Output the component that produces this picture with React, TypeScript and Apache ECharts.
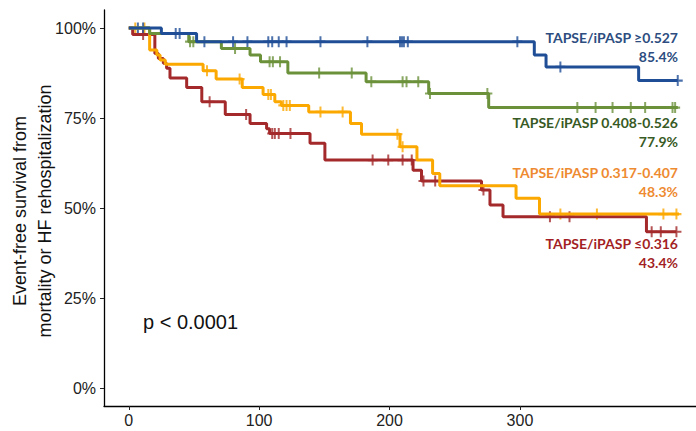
import React, { useEffect, useRef } from "react";
import * as echarts from "echarts";

// ---- data (days, % event-free survival) ----
const xTickValues = [0, 100, 200, 300];
const yTickValues = [0, 25, 50, 75, 100];

const blueTimes = [0, 25, 52, 311, 320, 391, 421];
const blueSurv = [100, 98.5, 96.2, 92.5, 89.2, 85.4, 85.4];
const blueCensor = [7, 11, 36, 39, 58, 80, 91, 107, 110, 115, 121, 147, 183, 208, 209.5, 211, 214, 298, 331, 421];

const greenTimes = [0, 16, 46, 71, 93, 101, 122, 182, 230, 276, 421];
const greenSurv = [100, 98.5, 96.2, 94.3, 92.5, 90.6, 87.5, 85.1, 81.8, 77.9, 77.9];
const greenCensor = [47, 49.5, 81.5, 108, 110.5, 116, 146, 171, 186, 210, 213, 222, 231, 275, 344, 358, 371, 385, 396, 417, 419];

const orangeTimes = [0, 16, 21.5, 24, 28, 57, 67, 87, 103, 112, 117, 138, 170, 178.5, 208, 221, 233, 238.5, 297, 315, 422];
const orangeSurv = [100, 93.9, 92.5, 91.1, 89.9, 88.1, 85.8, 83.5, 81.5, 79.5, 78.5, 76.7, 73.5, 70.5, 67, 63.3, 59.6, 56.2, 52.7, 48.3, 48.3];
const orangeCensor = [5, 12, 60, 85, 107, 109, 118.5, 121, 123.5, 147, 164, 206, 210, 331, 359, 410, 420];

const redTimes = [0, 3, 20, 22.7, 26.5, 29, 31.6, 44.4, 56, 74, 93, 105.7, 108, 139, 150.4, 218, 224.5, 270.5, 277, 287, 397, 420];
const redSurv = [100, 98.2, 92.9, 91.5, 90.2, 88.8, 86.1, 83.5, 79.5, 76, 73.5, 72, 70.7, 68, 63.3, 60.5, 57.5, 55, 50.8, 47.6, 43.4, 43.4];
const redCensor = [11, 62, 90, 110, 112, 115, 124, 187, 199, 210, 217, 226, 235, 272, 323, 338, 401, 408, 420];

const groupNames = ["TAPSE/iPASP ≥0.527", "TAPSE/iPASP 0.408-0.526", "TAPSE/iPASP 0.317-0.407", "TAPSE/iPASP ≤0.316"];
const finalLabels = ["85.4%", "77.9%", "48.3%", "43.4%"];
const pValueText = "p < 0.0001";
const yTitle1 = "Event-free survival from";
const yTitle2 = "mortality or HF rehospitalization";

const survAt = (times: number[], surv: number[], d: number) => {
  let v = surv[0];
  for (let i = 0; i < times.length; i++) if (times[i] <= d) v = surv[i];
  return v;
};

const PLUS = "path://M4,0H6V4H10V6H6V10H4V6H0V4H4Z";

export default function App() {
  const ref = useRef<HTMLDivElement>(null);
  useEffect(() => {
    if (!ref.current) return;
    const chart = echarts.init(ref.current, undefined, { renderer: "svg" });
    const groups = [
      { times: redTimes, surv: redSurv, censor: redCensor, color: "#a3292b" },
      { times: orangeTimes, surv: orangeSurv, censor: orangeCensor, color: "#fba800" },
      { times: greenTimes, surv: greenSurv, censor: greenCensor, color: "#6c913b" },
      { times: blueTimes, surv: blueSurv, censor: blueCensor, color: "#1f4e96" },
    ];
    const series: any[] = [];
    groups.forEach((g) => {
      series.push({
        type: "line",
        step: "end",
        showSymbol: false,
        data: g.times.map((t, i) => [t, g.surv[i]]),
        lineStyle: { color: g.color, width: 3 },
        itemStyle: { color: g.color },
        silent: true,
      });
      series.push({
        type: "scatter",
        symbol: PLUS,
        symbolSize: [10, 11],
        data: g.censor.map((d) => [d, survAt(g.times, g.surv, d)]),
        itemStyle: { color: g.color },
        silent: true,
      });
    });
    const labelColors = ["#2d4d80", "#385a24", "#ee8a30", "#a31f25"];
    const labelY = [37, 122, 172, 243];
    const graphic: any[] = [];
    groupNames.forEach((n, i) => {
      graphic.push({
        type: "text",
        x: 678,
        y: labelY[i],
        style: { text: n, fill: labelColors[i], fontSize: 14, fontWeight: "bold", fontFamily: "Lato", align: "right", verticalAlign: "middle" },
      });
      graphic.push({
        type: "text",
        x: 678,
        y: labelY[i] + 19.5,
        style: { text: finalLabels[i], fill: labelColors[i], fontSize: 14, fontWeight: "bold", fontFamily: "Lato", align: "right", verticalAlign: "middle" },
      });
    });
    graphic.push({
      type: "text",
      x: 143,
      y: 322,
      style: { text: pValueText, fill: "#111", fontSize: 20, fontFamily: "Liberation Sans", align: "left", verticalAlign: "middle" },
    });
    graphic.push({
      type: "text",
      x: 20,
      y: 211,
      rotation: Math.PI / 2,
      style: { text: yTitle1, fill: "#111", fontSize: 18, fontFamily: "Liberation Sans", align: "center", verticalAlign: "middle" },
    });
    graphic.push({
      type: "text",
      x: 45,
      y: 211,
      rotation: Math.PI / 2,
      style: { text: yTitle2, fill: "#111", fontSize: 18, fontFamily: "Liberation Sans", align: "center", verticalAlign: "middle" },
    });

    chart.setOption({
      animation: false,
      grid: { left: 104, right: 0, top: 10, bottom: 25 },
      xAxis: {
        type: "value",
        min: -19,
        max: 435,
        splitLine: { show: false },
        axisLine: { show: true, onZero: false, lineStyle: { color: "#000", width: 1.3 } },
        axisTick: { show: true, customValues: xTickValues, length: 4, lineStyle: { color: "#222" } },
        axisLabel: { customValues: xTickValues, color: "#222", fontSize: 16, fontFamily: "Liberation Sans", margin: 6 },
      },
      yAxis: {
        type: "value",
        min: -5,
        max: 105,
        splitLine: { show: false },
        axisLine: { show: true, onZero: false, lineStyle: { color: "#000", width: 1.3 } },
        axisTick: { show: true, customValues: yTickValues, length: 4, lineStyle: { color: "#222" } },
        axisLabel: {
          customValues: yTickValues,
          color: "#222",
          fontSize: 16,
          fontFamily: "Liberation Sans",
          margin: 8,
          formatter: (v: number) => `${v}%`,
        },
      },
      series,
      graphic,
    });
    return () => chart.dispose();
  }, []);
  return <div ref={ref} style={{ position: "fixed", left: 0, top: 0, width: 696, height: 431, background: "#fff" }} />;
}
